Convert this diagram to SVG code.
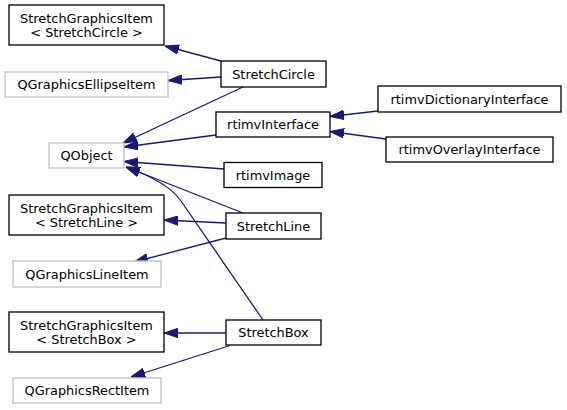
<svg xmlns="http://www.w3.org/2000/svg" width="567" height="410" viewBox="0 0 567 410">
<style>
.n{fill:#ffffff;stroke:#000000;stroke-width:1.3}
.g{fill:#ffffff;stroke:#bfbfbf;stroke-width:1.3}
text{font-family:"DejaVu Sans","Liberation Sans",sans-serif;font-size:12.9px;fill:#000000;text-anchor:middle}
.e{fill:none;stroke:#191970;stroke-width:1.3;marker-end:url(#ah)}
</style>
<defs>
<marker id="ah" viewBox="0 0 14 10" refX="14" refY="5" markerWidth="14" markerHeight="10" markerUnits="userSpaceOnUse" orient="auto">
<path d="M0,0.3 L14,5 L0,9.7 z" fill="#191970" stroke="#191970" stroke-width="1"/>
</marker>
</defs>
<rect width="567" height="410" fill="#ffffff"/>
<g id="edges">
<path class="e" d="M221,61 L165,46"/>
<path class="e" d="M221,77 L168,80.5"/>
<path class="e" d="M243,87 L123,143"/>
<path class="e" d="M216,135 L124,147"/>
<path class="e" d="M224,169 L124,161.5"/>
<path class="e" d="M243,213 L126,167"/>
<path class="e" d="M263,320 L181,201 Q168,182 126,167"/>
<path class="e" d="M378,111 L330,116.5"/>
<path class="e" d="M386,139 L330,131.5"/>
<path class="e" d="M226,223 L164,220"/>
<path class="e" d="M226,238 L134,262"/>
<path class="e" d="M226,333 L164,333"/>
<path class="e" d="M230,345.5 L131,377"/>
</g>
<g id="sgi_circle"><rect class="n" x="9" y="5" width="155" height="40"/><text x="86.5" y="22.5">StretchGraphicsItem</text><text x="86.5" y="36.5">&lt; StretchCircle &gt;</text></g>
<g id="qgraphicsellipseitem"><rect class="g" x="5" y="72" width="163" height="25"/><text x="86.5" y="89">QGraphicsEllipseItem</text></g>
<g id="stretchcircle"><rect class="n" x="221" y="61" width="105" height="26"/><text x="273.5" y="78.5">StretchCircle</text></g>
<g id="qobject"><rect class="g" x="49" y="143" width="75" height="25"/><text x="86.5" y="160">QObject</text></g>
<g id="rtimvinterface"><rect class="n" x="216" y="112" width="114" height="25"/><text x="273" y="129">rtimvInterface</text></g>
<g id="rtimvimage"><rect class="n" x="224" y="162.5" width="98" height="25"/><text x="273" y="179.5">rtimvImage</text></g>
<g id="rtimvdictionaryinterface"><rect class="n" x="378" y="86" width="183" height="26"/><text x="469.5" y="103.5">rtimvDictionaryInterface</text></g>
<g id="rtimvoverlayinterface"><rect class="n" x="386" y="137" width="167" height="25"/><text x="469.5" y="154">rtimvOverlayInterface</text></g>
<g id="sgi_line"><rect class="n" x="9" y="195" width="155" height="40"/><text x="86.5" y="212.5">StretchGraphicsItem</text><text x="86.5" y="226.5">&lt; StretchLine &gt;</text></g>
<g id="stretchline"><rect class="n" x="226" y="213" width="95" height="26"/><text x="273.5" y="230.5">StretchLine</text></g>
<g id="qgraphicslineitem"><rect class="g" x="13" y="261" width="148" height="26"/><text x="87" y="278.5">QGraphicsLineItem</text></g>
<g id="sgi_box"><rect class="n" x="9" y="312" width="155" height="40"/><text x="86.5" y="329.5">StretchGraphicsItem</text><text x="86.5" y="343.5">&lt; StretchBox &gt;</text></g>
<g id="stretchbox"><rect class="n" x="226" y="320" width="95" height="25"/><text x="273.5" y="337">StretchBox</text></g>
<g id="qgraphicsrectitem"><rect class="g" x="13" y="378" width="148" height="25"/><text x="87" y="395">QGraphicsRectItem</text></g>
</svg>
